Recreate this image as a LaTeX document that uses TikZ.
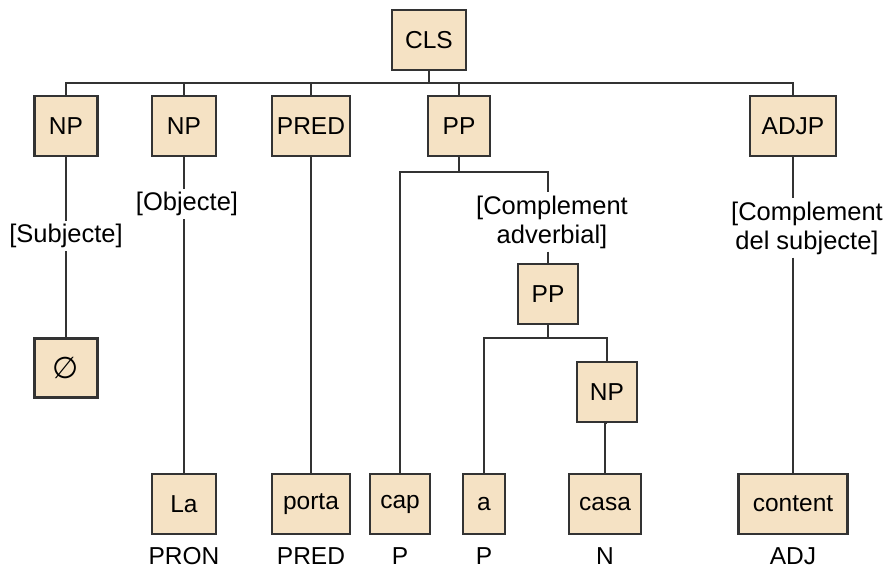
\documentclass[tikz,border=0pt]{standalone}
\usepackage{fontspec}
\setmainfont{Liberation Sans}
\newfontfamily\symfont{DejaVu Sans}
\usetikzlibrary{shadows}
\definecolor{boxfill}{HTML}{F5E2C4}
\definecolor{boxline}{HTML}{333333}
\begin{document}
\begin{tikzpicture}[x=1pt,y=-1pt,
  cat/.style={draw=boxline, line width=2.6pt, fill=boxfill, minimum height=60pt,
    inner sep=0pt, font=\fontsize{24.5}{28}\selectfont,
    drop shadow={shadow xshift=0.8pt, shadow yshift=-0.8pt, fill=black!30, opacity=0.5}},
  role/.style={font=\fontsize{25.5}{29}\selectfont, align=center, inner sep=3pt},
  tag/.style={font=\fontsize{24.5}{28}\selectfont, inner sep=0pt},
  edge/.style={line width=2pt, draw=boxline}]
\useasboundingbox (0,0) rectangle (887,570);

% phrase-level nodes
\node[cat, minimum width=74pt] (cls)  at (429,40)  {CLS};
\node[cat, minimum width=63pt] (np1)  at (66,126)  {NP};
\node[cat, minimum width=64pt] (np2)  at (184,126) {NP};
\node[cat, minimum width=78pt] (pred) at (311,126) {PRED};
\node[cat, minimum width=62pt] (pp)   at (459,126) {PP};
\node[cat, minimum width=86pt] (adjp) at (793,126) {ADJP};
\node[cat, minimum width=60pt] (pp2)  at (548,294) {PP};
\node[cat, minimum width=60pt] (np3)  at (607,392) {NP};

% leaves
\node[cat, minimum width=63pt, minimum height=59pt] (zero) at (66,368) {\symfont\fontsize{30}{30}\selectfont ∅};
\node[cat, minimum width=64pt]  (la)      at (184,504) {La};
\node[cat, minimum width=78pt]  (porta)   at (311,504) {porta};
\node[cat, minimum width=60pt]  (cap)     at (400,504) {cap};
\node[cat, minimum width=42pt]  (a)       at (484,504) {a};
\node[cat, minimum width=72pt]  (casa)    at (605,504) {casa};
\node[cat, minimum width=109pt] (content) at (793,504) {content};

% function labels
\node[role] (subj) at (66,236)  {[Subjecte]};
\node[role] (obj)  at (187,204) {[Objecte]};
\node[role] (adv)  at (552,222) {[Complement\\adverbial]};
\node[role] (del)  at (807,228) {[Complement\\del subjecte]};

% part-of-speech tags
\node[tag] (t1) at (184,556) {PRON};
\node[tag] (t2) at (311,556) {PRED};
\node[tag] (t3) at (400,556) {P};
\node[tag] (t4) at (484,556) {P};
\node[tag] (t5) at (605,556) {N};
\node[tag] (t6) at (793,556) {ADJ};

% bracket bars
\coordinate (bar)    at (429,83);
\coordinate (ppbar)  at (459,172);
\coordinate (pp2bar) at (548,338);

\draw[edge] (cls.south) -- (bar);
\draw[edge] (np1.north) -- (np1 |- bar) -- (adjp |- bar) -- (adjp.north);
\draw[edge] (np2.north) -- (np2 |- bar);
\draw[edge] (pred.north) -- (pred |- bar);
\draw[edge] (pp.north) -- (pp |- bar);

\draw[edge] (np1) -- (subj) -- (zero);
\draw[edge] (np2.south) -- (np2 |- obj.north);
\draw[edge] (np2 |- obj.south) -- (la.north);
\draw[edge] (pred) -- (porta);

\draw[edge] (pp.south) -- (ppbar);
\draw[edge] (cap.north) -- (cap |- ppbar) -- (pp2 |- ppbar) -- (pp2 |- adv.north);
\draw[edge] (pp2 |- adv.south) -- (pp2.north);

\draw[edge] (pp2.south) -- (pp2bar);
\draw[edge] (a.north) -- (a |- pp2bar) -- (np3 |- pp2bar) -- (np3.north);
\draw[edge] (np3.south) -- (np3.south -| casa) -- (casa.north);

\draw[edge] (adjp.south) -- (adjp |- del.north);
\draw[edge] (adjp |- del.south) -- (content.north);
\end{tikzpicture}
\end{document}
